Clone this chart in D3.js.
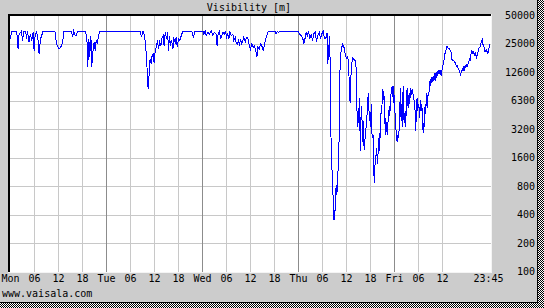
<!DOCTYPE html>
<html>
<head>
<meta charset="utf-8">
<script src="https://cdn.jsdelivr.net/npm/d3@7"></script>
<style>
body { margin: 0; background: #ffffff; }
text { font-family: "DejaVu Sans Mono", monospace; font-size: 10px; fill: #000; }
</style>
</head>
<body>
<script>
// visibility readings, [hours since Mon 00:00, metres]
var monData = [[0,29000],[0.25,35000],[1.5,35000],[1.7,30100],[1.9,22600],[2.15,32600],[2.75,35000],[3,27800],[3.3,35000],[3.8,35000],[4,29000],[4.25,35000],[4.6,26700],[5,32600],[5.3,27800],[5.65,34000],[5.9,21800],[6.15,31400],[6.5,35000],[6.9,27800],[7.15,20100],[7.5,29000],[7.8,31400],[8.15,35000],[11.1,35000],[11.3,29000],[11.65,24600],[12.15,22600],[12.5,23600],[12.8,24600],[13.15,29000],[13.3,35000],[15.25,35000],[15.5,30100],[15.8,35000],[16.2,31400],[16.5,31400],[16.75,35000],[18.8,35000],[19.2,25600],[19.3,14500],[19.6,29000],[19.8,18500],[20.1,31400],[20.3,14500],[20.6,21000],[20.9,26700],[21.2,21800],[21.4,27800],[21.7,25600],[22,31400],[22.3,35000]];
var tueData = [[32.3,35000],[32.5,34000],[32.75,30100],[33.1,35000],[33.3,34000],[33.6,29000],[33.8,24600],[34,17800],[34.25,11800],[34.4,8500],[34.65,12200],[34.9,17800],[35.2,15700],[35.4,19300],[35.65,20100],[35.9,16300],[36.15,21000],[36.5,24600],[36.75,27800],[37,22600],[37.3,26700],[37.6,24600],[37.8,29000],[38.2,31400],[38.4,24600],[38.7,34000],[39,29000],[39.3,34000],[39.5,21800],[39.75,31400],[40,24600],[40.3,27800],[40.6,22600],[40.8,29000],[41.2,26700],[41.4,30100],[41.7,23600],[42,29000],[42.3,27800],[42.7,31400],[43.1,35000],[45.3,35000],[45.6,31400],[45.8,30100],[46,35000]];
var wedData = [[48.1,35000],[48.3,32600],[48.7,35000],[48.9,31400],[49.3,34000],[49.75,32600],[50.2,35000],[50.6,31400],[51,34000],[51.4,32600],[51.65,24600],[51.8,31400],[52.25,35000],[52.5,29000],[52.8,31400],[53.1,34000],[53.5,32600],[53.75,35000],[54,30100],[54.3,32600],[54.6,29000],[54.8,35000],[55.2,31400],[55.6,32600],[55.8,27800],[56.2,30100],[56.4,26700],[56.7,25600],[57,27800],[57.25,24600],[57.5,29000],[57.8,25600],[58.1,27800],[58.3,30100],[58.7,26700],[59,30100],[59.3,30100],[59.7,24600],[60,22600],[60.3,25600],[60.7,23600],[61,24600],[61.3,21800],[61.6,18500],[61.8,23600],[62.2,22600],[62.5,25600],[62.8,24600],[63.2,21800],[63.5,25600],[63.8,29000],[64.2,32600],[64.5,35000],[66.2,35000],[66.4,32600],[66.7,35000],[67,34000],[67.25,35000]];
var thuData = [[71.8,35000],[72.25,32600],[72.7,31400],[73.1,29000],[73.3,25600],[73.7,30100],[73.9,34000],[74.2,31400],[74.5,35000],[74.8,29000],[75.2,32600],[75.5,27800],[75.8,32600],[76.2,34000],[76.5,26700],[76.8,31400],[77.2,34000],[77.5,29000],[77.8,32600],[78.2,35000],[78.5,29000],[78.9,29900],[79.15,33800],[79.3,15600],[79.6,23400],[79.75,31200],[79.9,16900],[80,5400],[80.25,1360],[80.4,1150],[80.6,730],[80.75,380],[80.9,350],[81.1,435],[81.25,470],[81.4,830],[81.6,650],[81.75,900],[82,1460],[82.2,3070],[82.3,11700],[82.65,21600],[83,25400],[83.3,24400],[83.7,20000],[84,17700],[84.2,19100],[84.5,16900],[84.75,8100],[84.9,6100],[85.1,11300],[85.25,15000],[85.5,18300],[85.8,17700],[86.2,16900],[86.5,13200],[86.65,4200],[86.8,3400],[87,5400],[87.2,3070],[87.3,6900],[87.5,1880],[87.65,5000],[87.8,5600],[88,2370],[88.25,3900],[88.4,1930],[88.65,2600],[88.9,3400],[89.2,5000],[89.3,6600],[89.5,7800],[89.7,3900],[89.8,4600],[90,3400],[90.2,5900],[90.4,2600],[90.65,2800],[90.8,1150],[91,860],[91.2,1700],[91.3,1460],[91.5,2020],[91.65,1600],[91.8,1360],[92,2600],[92.2,1880],[92.3,2900],[92.5,2600],[92.65,5200],[92.8,4600],[93,8500],[93.2,6600],[93.3,8100],[93.5,5900],[93.7,2800],[93.8,4200],[94,3400],[94.2,2800],[94.3,3500],[94.5,4400],[94.7,5600],[94.8,4400],[95,6100],[95.2,8500],[95.3,8800],[95.5,9200],[95.7,6100],[95.8,9200]];
var friData = [[96,5200],[96.2,4600],[96.3,3400],[96.5,2800],[96.65,2370],[96.8,2800],[97,2600],[97.2,3400],[97.3,5000],[97.5,8800],[97.65,3900],[97.8,5900],[98,3400],[98.15,9200],[98.3,4200],[98.5,3700],[98.65,5000],[98.8,3400],[99,6400],[99.15,8800],[99.3,5900],[99.5,5400],[99.65,7800],[99.8,5900],[100,8800],[100.15,7400],[100.3,8100],[100.5,8500],[100.65,7400],[100.8,6900],[101,5900],[101.15,5000],[101.3,3070],[101.5,5400],[101.65,6900],[101.8,5000],[102,5900],[102.15,5400],[102.3,4200],[102.5,6600],[102.65,5000],[102.8,5900],[103,4600],[103.15,2900],[103.3,3700],[103.5,3400],[103.65,5900],[103.8,4600],[104,7800],[104.15,5400],[104.3,7200],[104.5,7400],[104.65,8100],[104.8,10400],[105,9200],[105.15,11300],[105.3,9900],[105.5,10800],[105.65,11700],[105.8,10400],[106,11300],[106.15,12700],[106.3,10400],[106.5,12200],[106.65,13200],[106.8,11700],[107,13200],[107.15,13400],[107.3,12700],[107.5,13200],[107.65,11700],[107.8,13200],[108,14400],[108.15,15600],[108.3,16900],[108.5,17700],[108.65,20800],[108.8,21600],[109,23400],[109.15,24400],[109.3,23400],[109.5,23000],[109.65,22800],[109.8,22500],[110,21600],[110.15,20800],[110.3,17700],[110.5,17700],[110.65,16900],[110.8,17200],[111,16200],[111.15,16200],[111.3,15600],[111.5,15000],[111.65,15300],[111.8,14400],[112,13800],[112.15,13400],[112.3,12700],[112.5,12200],[112.65,12700],[112.8,13200],[113,13800],[113.15,13200],[113.3,14400],[113.5,13800],[113.65,15300],[113.8,14600],[114,15300],[114.15,14600],[114.3,15600],[114.5,16200],[114.65,16900],[114.8,17700],[115,17200],[115.15,20800],[115.3,21600],[115.5,20000],[115.65,21600],[115.8,20800],[116,19100],[116.15,20800],[116.3,20000],[116.5,18300],[116.65,19100],[116.8,20000],[117,22500],[117.15,23400],[117.3,23400],[117.5,24400],[117.65,26500],[117.8,27600],[118,28800],[118.15,24400],[118.3,25400],[118.5,22000],[118.65,21200],[118.8,21600],[119,22000],[119.15,21200],[119.3,20000],[119.5,21600],[119.65,23400],[119.75,25400]];

var data = monData.concat(tueData, wedData, thuData, friData);

// axes
var xTickHours = [0,6,12,18,24,30,36,42,48,54,60,66,72,78,84,90,96,102,108];
var xTickLabels = ["Mon","06","12","18","Tue","06","12","18","Wed","06","12","18","Thu","06","12","18","Fri","06","12"];
var dayHours = [24,48,72,96];
var endHour = 119.75, endLabel = "23:45";
var yTickValues = [100,200,400,800,1600,3200,6400,12800,25600,51200];
var yTickLabels = ["100","200","400","800","1600","3200","6300","12600","25000","50000"];
var title = "Visibility [m]";

var w = 544, h = 308;
var plot = {left: 10, top: 16, right: 491, bottom: 272};

var svg = d3.select("body").append("svg")
	.attr("width", w)
	.attr("height", h);

// checkered drop shadow + panel
var pat = svg.append("defs").append("pattern")
	.attr("id", "dither")
	.attr("width", 2).attr("height", 2)
	.attr("patternUnits", "userSpaceOnUse");
pat.append("rect").attr("width", 2).attr("height", 2).attr("fill", "#fff");
pat.append("rect").attr("width", 1).attr("height", 1).attr("fill", "#000");
pat.append("rect").attr("x", 1).attr("y", 1).attr("width", 1).attr("height", 1).attr("fill", "#000");

svg.append("rect").attr("width", w).attr("height", h).attr("fill", "url(#dither)");
svg.append("rect").attr("width", 538).attr("height", 303).attr("fill", "#000");
svg.append("rect").attr("width", 537).attr("height", 302).attr("fill", "#cccccc");

var x = d3.scaleLinear().domain([0, 120]).range([10.5, 490.5]);
var y = d3.scaleLog().domain([100, 51200]).range([271.5, 15.5]);

// plot background with sunken border
svg.append("rect")
	.attr("x", 8).attr("y", 14)
	.attr("width", plot.right - 8 + 1).attr("height", plot.bottom - 14 + 1)
	.attr("fill", "#f4f4f4");
svg.append("rect")
	.attr("x", 8).attr("y", 14)
	.attr("width", plot.right - 8).attr("height", plot.bottom - 14)
	.attr("fill", "#000");
svg.append("rect")
	.attr("x", plot.left).attr("y", plot.top)
	.attr("width", plot.right - plot.left).attr("height", plot.bottom - plot.top)
	.attr("fill", "#fff");

var grid = svg.append("g").attr("shape-rendering", "crispEdges");

grid.selectAll(".hgrid")
	.data(yTickValues.slice(1, -1))
	.enter().append("line")
	.attr("x1", plot.left).attr("x2", plot.right)
	.attr("y1", d => Math.round(y(d)) + 0.5)
	.attr("y2", d => Math.round(y(d)) + 0.5)
	.attr("stroke", "#c8c8c8");

grid.selectAll(".vgrid")
	.data(xTickHours.slice(1))
	.enter().append("line")
	.attr("y1", plot.top).attr("y2", plot.bottom)
	.attr("x1", d => Math.floor(x(d)) + 0.5)
	.attr("x2", d => Math.floor(x(d)) + 0.5)
	.attr("stroke", d => dayHours.indexOf(d) >= 0 ? "#8c8c8c" : "#c8c8c8");

// the series
var line = d3.line()
	.x(d => x(d[0]))
	.y(d => y(d[1]));

svg.append("path")
	.datum(data)
	.attr("d", line)
	.attr("fill", "none")
	.attr("stroke", "#0000ff")
	.attr("stroke-width", 1)
	.attr("shape-rendering", "crispEdges");

// labels
svg.append("text")
	.attr("x", 249).attr("y", 11)
	.attr("text-anchor", "middle")
	.text(title);

svg.selectAll(".xlab")
	.data(xTickHours)
	.enter().append("text")
	.attr("x", d => x(d))
	.attr("y", 282)
	.attr("text-anchor", "middle")
	.text((d, i) => xTickLabels[i]);

svg.append("text")
	.attr("x", x(endHour) - 1)
	.attr("y", 282)
	.attr("text-anchor", "middle")
	.text(endLabel);

svg.selectAll(".ylab")
	.data(yTickValues)
	.enter().append("text")
	.attr("x", 535)
	.attr("y", d => y(d) + 3.5)
	.attr("text-anchor", "end")
	.text((d, i) => yTickLabels[i]);

svg.append("text")
	.attr("x", 2).attr("y", 297)
	.text("www.vaisala.com");
</script>
</body>
</html>
